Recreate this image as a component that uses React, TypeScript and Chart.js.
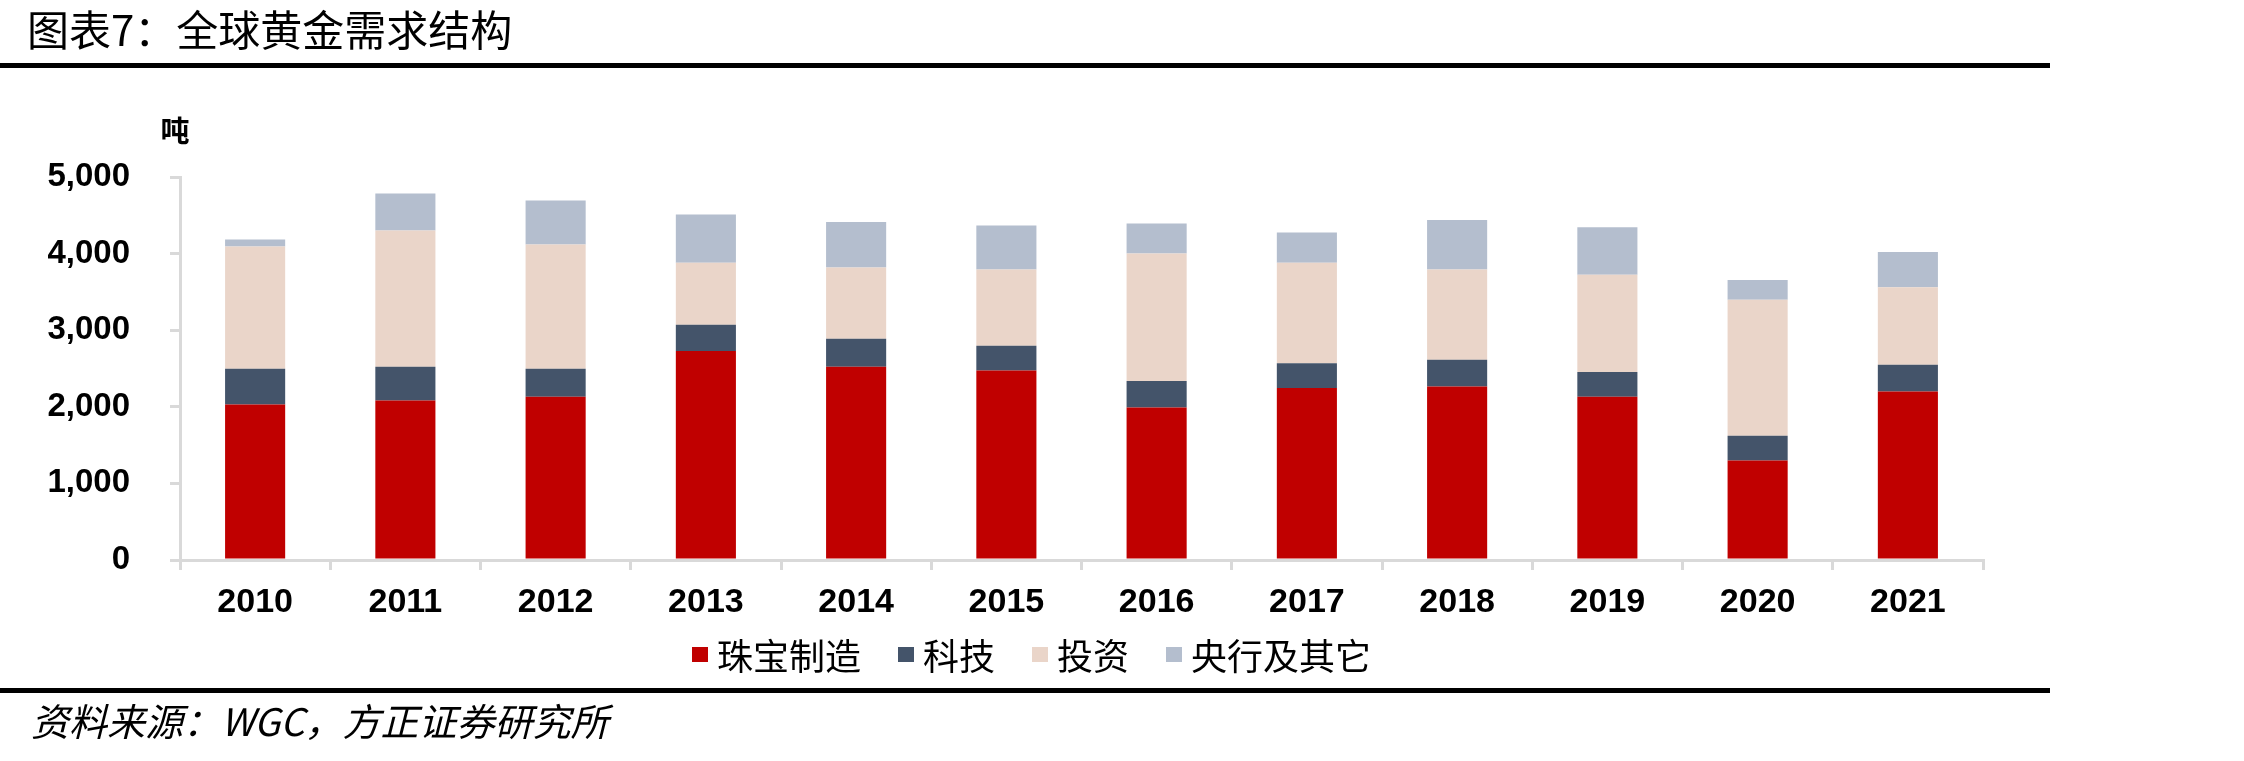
import React, { useEffect, useRef } from "react";
import { Chart, registerables } from "chart.js";

Chart.register(...registerables);

const TITLE = "图表7：全球黄金需求结构";
const SOURCE = "资料来源：WGC，方正证券研究所";
const UNIT = "吨";

const years = ["2010", "2011", "2012", "2013", "2014", "2015", "2016", "2017", "2018", "2019", "2020", "2021"];
const seriesNames = ["珠宝制造", "科技", "投资", "央行及其它"];
const jewelry = [2031, 2083, 2131, 2728, 2523, 2475, 1991, 2244, 2266, 2131, 1298, 2200];
const technology = [466, 440, 366, 344, 366, 322, 345, 323, 348, 322, 323, 349];
const investment = [1595, 1778, 1621, 810, 928, 994, 1664, 1315, 1177, 1272, 1778, 1011];
const centralBanks = [91, 483, 575, 628, 597, 575, 392, 393, 649, 619, 257, 462];
const yTicks = [0, 1000, 2000, 3000, 4000, 5000];

const colors = ["#C00000", "#44546A", "#EAD5C9", "#B4BECE"];

const W = 2244;
const H = 761;

const decorPlugin = {
  id: "decor",
  afterDraw(chart: any) {
    const ctx = chart.ctx as CanvasRenderingContext2D;
    ctx.save();
    ctx.fillStyle = "#000";
    // title
    ctx.font = '42px "Noto Sans CJK SC"';
    ctx.textAlign = "left";
    ctx.textBaseline = "middle";
    ctx.fillText(TITLE, 27, 30);
    // rules
    ctx.fillRect(0, 63, 2050, 5);
    ctx.fillRect(0, 688, 2050, 5);
    // unit
    ctx.font = 'bold 29px "Noto Sans CJK SC"';
    ctx.textAlign = "center";
    ctx.fillText(UNIT, 175, 131);
    // source
    ctx.font = 'italic 38px "Noto Sans CJK SC"';
    ctx.textAlign = "left";
    ctx.fillText(SOURCE, 31, 722);
    // legend
    ctx.font = '36px "Noto Sans CJK SC"';
    let x = 692;
    chart.data.datasets.forEach((ds: any) => {
      ctx.fillStyle = ds.backgroundColor;
      ctx.fillRect(x, 647, 16, 15);
      x += 25;
      ctx.fillStyle = "#000";
      ctx.fillText(ds.label, x, 656);
      x += ctx.measureText(ds.label).width + 37;
    });
    ctx.restore();
  },
};

export default function App() {
  const ref = useRef<HTMLCanvasElement>(null);
  useEffect(() => {
    if (!ref.current) return;
    const seriesData = [jewelry, technology, investment, centralBanks];
    const chart = new Chart(ref.current, {
      type: "bar",
      data: {
        labels: years,
        datasets: seriesNames.map((name, i) => ({
          label: name,
          data: seriesData[i],
          backgroundColor: colors[i],
          borderWidth: 0,
          barPercentage: 0.4,
          categoryPercentage: 1.0,
        })),
      },
      options: {
        responsive: false,
        animation: false,
        devicePixelRatio: 1,
        layout: { padding: { left: 0, right: W - 1983, top: 177, bottom: 0 } },
        plugins: {
          legend: { display: false },
          title: { display: false },
          tooltip: { enabled: false },
        },
        scales: {
          x: {
            stacked: true,
            afterFit: (scale: any) => {
              scale.height = H - 560;
            },
            border: { display: true, color: "#D9D9D9", width: 3 },
            grid: {
              offset: true,
              drawOnChartArea: false,
              drawTicks: true,
              tickLength: 10,
              color: "#D9D9D9",
              lineWidth: 3,
            },
            ticks: {
              color: "#000",
              padding: 12,
              maxRotation: 0,
              font: { family: '"Liberation Sans", Arial, sans-serif', size: 34, weight: "bold" },
            },
          },
          y: {
            stacked: true,
            min: 0,
            max: 5000,
            afterFit: (scale: any) => {
              scale.width = 180;
            },
            afterBuildTicks: (scale: any) => {
              scale.ticks = yTicks.map((v) => ({ value: v }));
            },
            border: { display: true, color: "#D9D9D9", width: 3 },
            grid: {
              drawOnChartArea: false,
              drawTicks: true,
              tickLength: 10,
              color: "#D9D9D9",
              lineWidth: 3,
            },
            ticks: {
              color: "#000",
              padding: 40,
              font: { family: '"Liberation Sans", Arial, sans-serif', size: 33, weight: "bold" },
              callback: (v: any) => Number(v).toLocaleString("en-US"),
            },
          },
        },
      },
      plugins: [decorPlugin],
    });
    return () => chart.destroy();
  }, []);
  return (
    <div style={{ position: "fixed", left: 0, top: 0, width: W, height: H, background: "#fff" }}>
      <canvas ref={ref} width={W} height={H} style={{ width: W, height: H, display: "block" }} />
    </div>
  );
}
